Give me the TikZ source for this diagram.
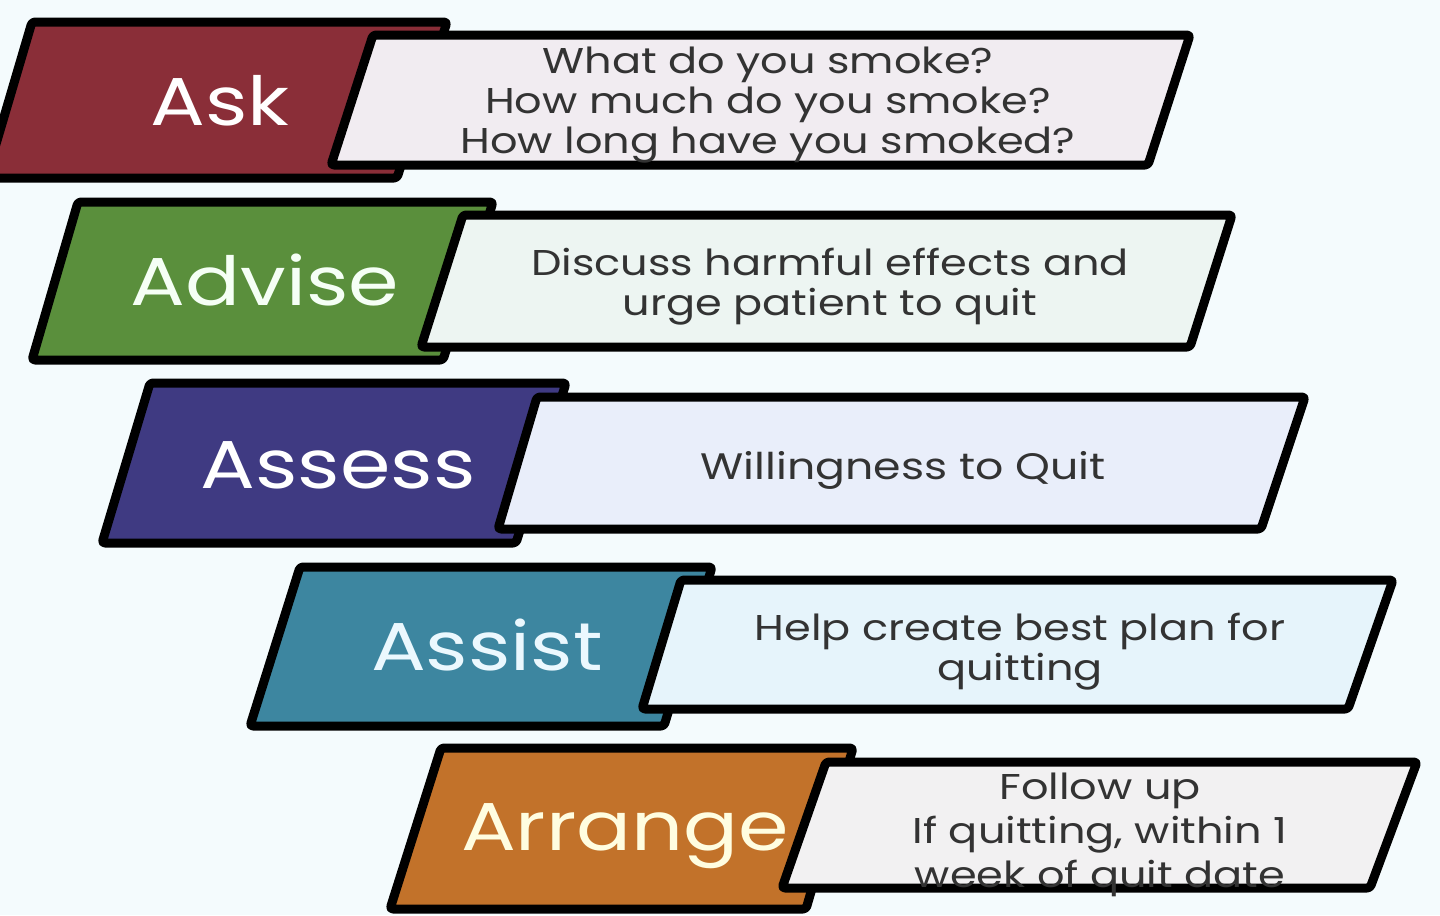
\documentclass[tikz,border=0pt]{standalone}
\usepackage{fontspec}
\setmainfont[FakeStretch=1.2]{Poppins}
\definecolor{bgpale}{HTML}{F4FBFD}
\definecolor{askred}{HTML}{8A2E38}
\definecolor{advisegreen}{HTML}{5A8F3C}
\definecolor{assesspurple}{HTML}{3F3A82}
\definecolor{assistteal}{HTML}{3D86A0}
\definecolor{arrangeorange}{HTML}{C2722A}
\definecolor{askpale}{HTML}{F1ECF1}
\definecolor{advisepale}{HTML}{EDF5F2}
\definecolor{assesspale}{HTML}{E9EEFA}
\definecolor{assistpale}{HTML}{E6F4FB}
\definecolor{arrangepale}{HTML}{F2F1F2}
\definecolor{textgray}{HTML}{333333}
\begin{document}
\begin{tikzpicture}[x=0.5bp,y=-0.5bp,line join=round,
  stepbox/.style={draw=black,line width=4.5bp,rounded corners=1.5bp},
  steplabel/.style={anchor=base,text=white,font=\fontsize{34}{40}\selectfont},
  desclabel/.style={text=textgray,align=center,font=\fontsize{18}{20}\selectfont}]
%%
\useasboundingbox (0,0) rectangle (1440,915);
\fill [bgpale] (0,0) rectangle (1440,915);
%% Ask
\draw [stepbox,fill=askred] (32,22) -- (447,22) -- (397,178) -- (-14,178) -- cycle;
  \node (ask) at (220,125) [steplabel] {Ask};
  \draw [stepbox,fill=askpale] (373,35) -- (1190,35) -- (1148,165) -- (331,165) -- cycle;
  \node (ask_text) at (768,105) [desclabel] {What do you smoke?\\How much do you smoke?\\How long have you smoked?};
%% Advise
\draw [stepbox,fill=advisegreen] (78,202) -- (493,202) -- (443,360) -- (32,360) -- cycle;
  \node (advise) at (265,305) [steplabel,text=green!4!white] {Advise};
  \draw [stepbox,fill=advisepale] (463,215) -- (1232,215) -- (1190,347) -- (421,347) -- cycle;
  \node (advise_text) at (830,287) [desclabel] {Discuss harmful effects and\\urge patient to quit};
%% Assess
\draw [stepbox,fill=assesspurple] (150,383) -- (566,383) -- (516,543) -- (102,543) -- cycle;
  \node (assess) at (338,488) [steplabel] {Assess};
  \draw [stepbox,fill=assesspale] (537,397) -- (1305,397) -- (1261,529) -- (498,529) -- cycle;
  \node (assess_text) at (903,470) [desclabel,font=\fontsize{18.5}{20}\selectfont] {Willingness to Quit};
%% Assist
\draw [stepbox,fill=assistteal] (300,567) -- (712,567) -- (664,726) -- (250,726) -- cycle;
  \node (assist) at (487,670) [steplabel,text=cyan!8!white] {Assist};
  \draw [stepbox,fill=assistpale] (681,580) -- (1393,580) -- (1348,709) -- (642,709) -- cycle;
  \node (assist_text) at (1020,652) [desclabel] {Help create best plan for\\quitting};
%% Arrange
\draw [stepbox,fill=arrangeorange] (441,748) -- (853,748) -- (806,909) -- (390,909) -- cycle;
  \node (arrange) at (625,850) [steplabel,text=yellow!12!white] {Arrange};
  \draw [stepbox,fill=arrangepale] (826,762) -- (1417,762) -- (1370,888) -- (782,888) -- cycle;
  \node (arrange_text) at (1100,835) [desclabel,font=\fontsize{18}{22}\selectfont] {Follow up\\If quitting, within 1\\week of quit date};
%
\end{tikzpicture}
\end{document}
